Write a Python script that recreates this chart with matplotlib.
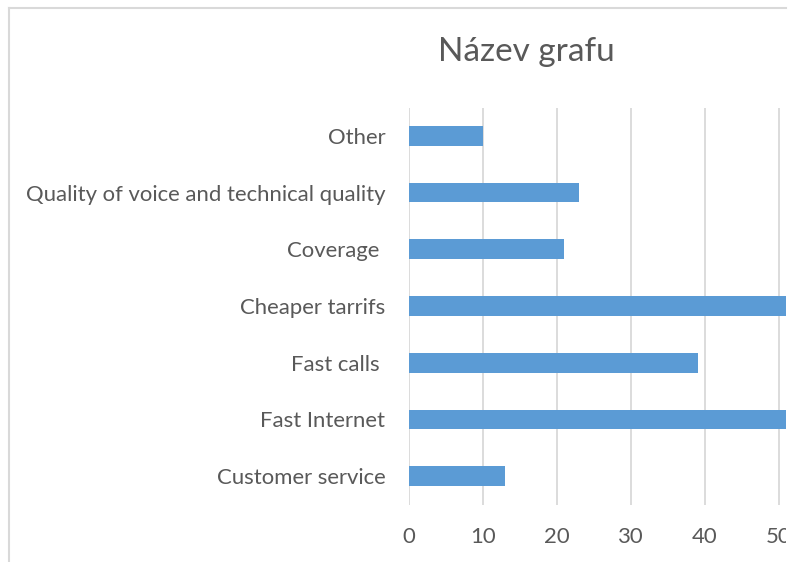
import matplotlib.pyplot as plt
from matplotlib.patches import Rectangle
from matplotlib.lines import Line2D

plt.rcParams['font.family'] = ['Lato', 'DejaVu Sans']

categories = ['Customer service', 'Fast Internet', 'Fast calls ', 'Cheaper tarrifs',
              'Coverage ', 'Quality of voice and technical quality', 'Other']
values = [13, 62, 39, 58, 21, 23, 10]
ticks = [0, 10, 20, 30, 40, 50, 60, 70]

text_col = '#595959'
grid_col = '#D9D9D9'
bar_col = '#5B9BD5'

fig = plt.figure(figsize=(8, 5.62), dpi=100)
ax = fig.add_axes([409 / 800, 57.5 / 562, 518 / 800, 397 / 562])

ax.barh(range(len(categories)), values, height=0.35, color=bar_col, zorder=2)
ax.set_xlim(0, 70)
ax.set_ylim(-0.5, len(categories) - 0.5)
ax.set_xticks(ticks)
ax.set_yticks(range(len(categories)))
ax.set_yticklabels(categories)
ax.grid(axis='x', color=grid_col, linewidth=1.3, zorder=0)
ax.tick_params(axis='both', length=0, labelsize=15.9, labelcolor=text_col)
ax.tick_params(axis='y', pad=17)
ax.tick_params(axis='x', pad=16)
for s in ax.spines.values():
    s.set_visible(False)

fig.text(526 / 800, 1 - 52 / 562, 'Název grafu', ha='center', va='center',
         fontsize=24, color=text_col)

# white area right of the cropped chart, and the chart border
fig.add_artist(Rectangle((786 / 800, 0), 14 / 800, 1, transform=fig.transFigure,
                         facecolor='white', edgecolor='none', zorder=10))
fig.add_artist(Line2D([9 / 800, 786 / 800], [1 - 8 / 562] * 2, transform=fig.transFigure,
                      color=grid_col, linewidth=1.5, zorder=11))
fig.add_artist(Line2D([9 / 800] * 2, [0, 1 - 8 / 562], transform=fig.transFigure,
                      color=grid_col, linewidth=1.5, zorder=11))

fig.savefig('out.png', dpi=100)
